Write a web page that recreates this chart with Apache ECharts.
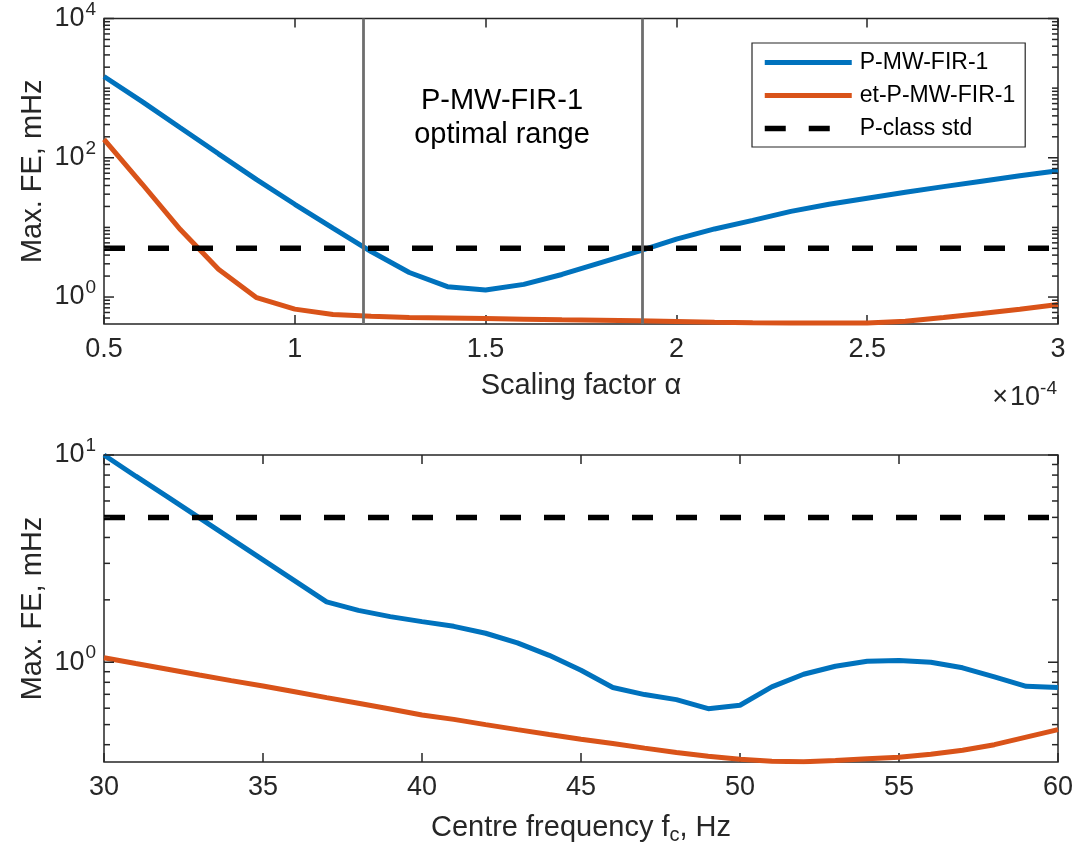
<!DOCTYPE html>
<html>
<head>
<meta charset="utf-8">
<script src="https://cdn.jsdelivr.net/npm/echarts@6/dist/echarts.min.js"></script>
<style>
html,body{margin:0;padding:0;background:#fff;}
#chart{width:1092px;height:850px;}
</style>
</head>
<body>
<div id="chart"></div>
<script>
// ---------- DATA ----------
// Top panel: scaling factor alpha (x 1e-4)
const ALPHA = [0.5,0.6,0.7,0.8,0.9,1.0,1.1,1.2,1.3,1.4,1.5,1.6,1.7,1.8,1.9,2.0,2.1,2.2,2.3,2.4,2.5,2.6,2.7,2.8,2.9,3.0];
const FE_PMW_ALPHA = [1470,640,270,114,48.5,21.5,9.8,4.5,2.25,1.41,1.26,1.52,2.11,3.1,4.54,6.8,9.5,12.6,17,21.5,26.3,32,38.5,46,55,65];
const FE_ET_ALPHA  = [183,42,9.3,2.5,0.98,0.67,0.56,0.53,0.51,0.50,0.49,0.48,0.47,0.463,0.455,0.445,0.435,0.428,0.425,0.423,0.423,0.45,0.51,0.58,0.667,0.78];
const OPT_RANGE = [1.18, 1.91];

// Bottom panel: centre frequency fc (Hz)
const FC = [30,31,32,33,34,35,36,37,38,39,40,41,42,43,44,45,46,47,48,49,50,51,52,53,54,55,56,57,58,59,60];
const FE_PMW_FC = [10.0,7.9,6.28,4.97,3.94,3.12,2.47,1.955,1.78,1.66,1.57,1.49,1.38,1.24,1.08,0.915,0.755,0.698,0.66,0.597,0.62,0.76,0.875,0.956,1.01,1.02,1.0,0.94,0.85,0.765,0.755];
const FE_ET_FC  = [1.05,0.985,0.925,0.868,0.815,0.768,0.72,0.675,0.634,0.595,0.556,0.53,0.50,0.473,0.448,0.425,0.405,0.385,0.367,0.352,0.34,0.333,0.331,0.336,0.342,0.348,0.36,0.376,0.40,0.435,0.473];

const P_CLASS_STD = 5;
const NAMES = ['P-MW-FIR-1','et-P-MW-FIR-1','P-class std'];

// axis ranges
const X1 = {min:0.5, max:3, interval:0.5};
const Y1 = {min:0.41, max:10000, labelPowers:[0,2,4]};
const X2 = {min:30, max:60, interval:5};
const Y2 = {min:0.33, max:10, labelPowers:[0,1]};

// ---------- STYLE ----------
const BLUE = '#0072BD', ORANGE = '#D95319', AX = '#262626';
const FONT = 'Liberation Sans';
const LW = 5;
const DASH = [21,23];

function zip(xs, ys){ return xs.map((x,i)=>[x, ys[i]]); }

function logLabel(powers){
  return function(v){
    const l = Math.log10(v), e = Math.round(l);
    if (Math.abs(l-e) > 1e-6 || powers.indexOf(e) < 0) return '';
    return '{b|10}{s|' + e + '}';
  };
}
const RICH_POW = {
  b:{fontSize:27, color:AX, fontFamily:FONT},
  s:{fontSize:19, color:AX, fontFamily:FONT, padding:[0,0,18,1]}
};

function tickData(Y, X){
  const out = [];
  for (let n = Math.floor(Math.log10(Y.min)); n <= Math.ceil(Math.log10(Y.max)); n++){
    for (let m = 1; m <= 9; m++){
      const v = m*Math.pow(10,n);
      if (v < Y.min*0.999 || v > Y.max*1.001) continue;
      const major = (m===1 && Y.labelPowers.indexOf(n) >= 0) ? 1 : 0;
      out.push([X.min, v, major]);
    }
  }
  return out;
}
function tickSeries(gi, X, Y){
  return {
    type:'custom', xAxisIndex:gi*2, yAxisIndex:gi, silent:true, clip:false, z:5,
    data: tickData(Y, X),
    renderItem:function(params, api){
      const v = api.value(1), major = api.value(2);
      const pL = api.coord([X.min, v]), pR = api.coord([X.max, v]);
      const len = major ? 10 : 6;
      const st = {stroke:AX, lineWidth:1.5};
      return {type:'group', children:[
        {type:'line', shape:{x1:pL[0], y1:pL[1], x2:pL[0]+len, y2:pL[1]}, style:st},
        {type:'line', shape:{x1:pR[0], y1:pR[1], x2:pR[0]-len, y2:pR[1]}, style:st}
      ]};
    }
  };
}

function xAxisPair(gi, X, name, nameGap, nameRich){
  const base = {
    type:'value', gridIndex:gi, min:X.min, max:X.max, interval:X.interval,
    splitLine:{show:false}, axisLine:{show:false},
    axisTick:{show:true, inside:true, length:9, lineStyle:{color:AX, width:1.5}}
  };
  return [
    Object.assign({}, base, {
      position:'bottom',
      axisLabel:{show:true, fontSize:27, color:AX, fontFamily:FONT, margin:12, showMinLabel:true, showMaxLabel:true},
      name:name, nameLocation:'middle', nameGap:nameGap,
      nameTextStyle:Object.assign({fontSize:29, color:AX, fontFamily:FONT}, nameRich ? {rich:nameRich} : {})
    }),
    Object.assign({}, base, {position:'top', axisLabel:{show:false}})
  ];
}

function yAxis(gi, Y){
  return {
    type:'log', logBase:10, gridIndex:gi, min:Y.min, max:Y.max, position:'left',
    splitLine:{show:false}, axisLine:{show:false}, axisTick:{show:false},
    axisLabel:{show:true, margin:8, showMinLabel:false, formatter:logLabel(Y.labelPowers), rich:RICH_POW},
    name:'Max. FE, mHz', nameLocation:'middle', nameGap:57, nameMoveOverlap:false,
    nameTextStyle:{fontSize:29, color:AX, fontFamily:FONT}
  };
}

const lineCommon = {type:'line', symbol:'none', showSymbol:false, smooth:false, z:3};

const option = {
  animation:false,
  backgroundColor:'#fff',
  textStyle:{fontFamily:FONT},
  grid:[
    {left:104, top:16, width:954, height:308, show:true, borderColor:AX, borderWidth:1.5, backgroundColor:'transparent'},
    {left:104, top:455, width:954, height:307, show:true, borderColor:AX, borderWidth:1.5, backgroundColor:'transparent'}
  ],
  xAxis:[].concat(
    xAxisPair(0, X1, 'Scaling factor α', 47),
    xAxisPair(1, X2, '{n|Centre frequency f}{sub|c}{n|, Hz}', 49, {
      n:{fontSize:29, color:AX, fontFamily:FONT},
      sub:{fontSize:20, color:AX, fontFamily:FONT, padding:[14,0,0,0]}
    })
  ),
  yAxis:[yAxis(0, Y1), yAxis(1, Y2)],
  legend:{
    show:true, orient:'vertical', left:752, top:43,
    data:[
      {name:NAMES[0], itemStyle:{opacity:0}, lineStyle:{width:LW, color:BLUE, type:'solid'}},
      {name:NAMES[1], itemStyle:{opacity:0}, lineStyle:{width:LW, color:ORANGE, type:'solid'}},
      {name:NAMES[2], itemStyle:{opacity:0}, lineStyle:{width:5.5, color:'#000', type:DASH}}
    ],
    itemStyle:{opacity:0},
    itemWidth:87, itemHeight:22, itemGap:10,
    padding:[8,10,7,10],
    borderColor:AX, borderWidth:1.2, backgroundColor:'#fff',
    textStyle:{fontSize:23, color:'#000', fontFamily:FONT, lineHeight:22, padding:[0,0,0,3]},
    selectedMode:false
  },
  graphic:[
    {type:'text', x:502, y:118, style:{text:'P-MW-FIR-1\noptimal range', fontSize:29, lineHeight:34, fill:'#000', fontFamily:FONT, align:'center', verticalAlign:'middle'}, z:10},
    {type:'text', x:1057, y:398, style:{text:'{x|×}{b|10}{s|-4}', align:'right', verticalAlign:'middle',
      rich:{x:{fontSize:27, fill:AX, fontFamily:FONT, padding:[0,2,0,0]}, b:{fontSize:27, fill:AX, fontFamily:FONT}, s:{fontSize:19, fill:AX, fontFamily:FONT, padding:[0,0,18,0]}}}, z:10}
  ],
  series:[
    Object.assign({}, lineCommon, {name:NAMES[0], xAxisIndex:0, yAxisIndex:0, data:zip(ALPHA, FE_PMW_ALPHA),
      lineStyle:{color:BLUE, width:LW}, itemStyle:{color:BLUE},
      markLine:{silent:true, symbol:['none','none'], label:{show:false},
        lineStyle:{color:'#6e6e6e', width:2.8, type:'solid'},
        data:OPT_RANGE.map(v=>({xAxis:v}))}}),
    Object.assign({}, lineCommon, {name:NAMES[1], xAxisIndex:0, yAxisIndex:0, data:zip(ALPHA, FE_ET_ALPHA),
      lineStyle:{color:ORANGE, width:LW}, itemStyle:{color:ORANGE}}),
    Object.assign({}, lineCommon, {name:NAMES[2], xAxisIndex:0, yAxisIndex:0, data:[[X1.min, P_CLASS_STD],[X1.max, P_CLASS_STD]],
      lineStyle:{color:'#000', width:5.5, type:DASH}, itemStyle:{color:'#000'}, z:4}),
    Object.assign({}, lineCommon, {name:NAMES[0], xAxisIndex:2, yAxisIndex:1, data:zip(FC, FE_PMW_FC),
      lineStyle:{color:BLUE, width:LW}, itemStyle:{color:BLUE}}),
    Object.assign({}, lineCommon, {name:NAMES[1], xAxisIndex:2, yAxisIndex:1, data:zip(FC, FE_ET_FC),
      lineStyle:{color:ORANGE, width:LW}, itemStyle:{color:ORANGE}}),
    Object.assign({}, lineCommon, {name:NAMES[2], xAxisIndex:2, yAxisIndex:1, data:[[X2.min, P_CLASS_STD],[X2.max, P_CLASS_STD]],
      lineStyle:{color:'#000', width:5.5, type:DASH}, itemStyle:{color:'#000'}, z:4}),
    tickSeries(0, X1, Y1),
    tickSeries(1, X2, Y2)
  ]
};

const chart = echarts.init(document.getElementById('chart'), null, {renderer:'canvas'});
chart.setOption(option);
</script>
</body>
</html>
